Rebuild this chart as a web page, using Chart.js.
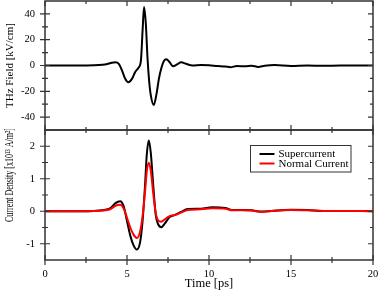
<!DOCTYPE html>
<html>
<head>
<meta charset="utf-8">
<script src="https://cdn.jsdelivr.net/npm/chart.js@4/dist/chart.umd.min.js"></script>
<style>
  body { margin: 0; background: #fff; }
  #wrap { position: relative; width: 378px; height: 292px; }
  #wrap canvas { position: absolute; left: 0; }
</style>
</head>
<body>
<div id="wrap">
  <canvas id="topChart" width="378" height="132" style="top:0"></canvas>
  <canvas id="bottomChart" width="378" height="163" style="top:129px"></canvas>
</div>
<script>
// ---- data ----
const timeTHz = [0, 1, 2, 3, 3.5, 3.8, 4.0, 4.3, 4.5, 4.7,
  4.9, 5.09, 5.3, 5.5, 5.7, 5.85, 5.95, 6.04, 6.15, 6.25,
  6.35, 6.45, 6.63, 6.8, 6.95, 7.1, 7.25, 7.4, 7.6, 7.8,
  8.05, 8.3, 8.6, 9.0, 9.5, 10.0, 10.5, 11.0, 11.3, 11.7,
  12.2, 12.6, 13.0, 13.4, 14.0, 15.0, 16.0, 17.0, 18.0, 20.0];
const thzField = [0, 0, 0, 0.2, 0.6, 1.2, 1.9, 2.6, 1.2, -4,
  -10.5, -13, -10.4, -5, -1.7, 4, 27, 45.4, 32, 6,
  -12, -23, -30.6, -22, -10, -1.7, 3.4, 4.8, 2.5, -0.5,
  0.8, 2.5, 1.3, 0, 0.3, 0.2, -0.4, -0.8, -1.3, -0.4,
  -0.6, -0.2, -1.1, -0.2, 0.3, -0.3, 0, -0.2, 0, 0];

const timeJ = [0, 1, 2, 3, 3.5, 4.0, 4.3, 4.58, 4.8, 5.0,
  5.2, 5.4, 5.6, 5.8, 5.95, 6.1, 6.2, 6.33, 6.45, 6.6,
  6.75, 6.9, 7.1, 7.3, 7.6, 7.9, 8.3, 8.7, 9.5, 10.2,
  11.0, 11.4, 12.0, 12.6, 13.2, 13.8, 15.0, 16.0, 17.0, 18.0, 20.0];
const superJ = [0, 0, 0, 0.01, 0.03, 0.1, 0.25, 0.31, 0.15, -0.3,
  -0.75, -1.05, -1.18, -0.95, -0.3, 0.8, 1.7, 2.18, 1.8, 0.8,
  -0.1, -0.4, -0.49, -0.38, -0.18, -0.12, -0.02, 0.07, 0.08, 0.12,
  0.1, 0.04, 0.04, 0.03, -0.01, 0.01, 0.05, 0.04, 0.01, 0.01, 0];
const normalJ = [0, 0, 0, 0.01, 0.02, 0.07, 0.17, 0.2, 0.08, -0.2,
  -0.5, -0.72, -0.82, -0.62, -0.15, 0.6, 1.2, 1.49, 1.25, 0.55,
  -0.05, -0.28, -0.32, -0.25, -0.15, -0.12, -0.04, 0.04, 0.06, 0.09,
  0.08, 0.03, 0.03, 0.02, -0.02, 0.01, 0.04, 0.03, 0.01, 0.01, 0];

const xTicks = [0, 5, 10, 15, 20];
const xMinorTicks = [2.5, 7.5, 12.5, 17.5];
const yTopTicks = [-40, -20, 0, 20, 40];
const yTopMinorTicks = [-30, -10, 10, 30];
const yBottomTicks = [-1, 0, 1, 2];
const yBottomMinorTicks = [-0.5, 0.5, 1.5];

const seriesNames = ['Supercurrent', 'Normal Current'];
const bottomYTitle = 'Current Density [x10¹³ A/m²]';

// ---- helpers ----
const SERIF = '"Liberation Serif", "Times New Roman", serif';
const AXIS_COLOR = '#333';

function toPoints(xs, ys) {
    return xs.map((x, i) => ({ x: x, y: ys[i] }));
}

function setTicks(values) {
    return function(scale) {
        scale.ticks = values.map(v => ({ value: v }));
    };
}

// fixed axis size, and no extra label padding around the plot
function fixWidth(w) {
    return function(scale) {
        scale.width = w;
        scale.paddingTop = 0;
        scale.paddingBottom = 0;
    };
}

function fixHeight(h) {
    return function(scale) {
        scale.height = h;
        scale.paddingLeft = 0;
        scale.paddingRight = 0;
    };
}

// frame + ticks: left/bottom ticks cross the axis, top/right point inward
const framePlugin = {
    id: 'frame',
    afterDraw(chart, args, opts) {
        const ctx = chart.ctx;
        const a = chart.chartArea;
        const xs = chart.scales.x;
        const ys = chart.scales.y;
        ctx.save();
        ctx.strokeStyle = AXIS_COLOR;
        ctx.lineWidth = 1.5;
        ctx.strokeRect(a.left, a.top, a.right - a.left, a.bottom - a.top);

        ctx.lineWidth = 1.2;
        ctx.beginPath();
        const drawX = (vals, len) => {
            vals.forEach(v => {
                const px = xs.getPixelForValue(v);
                ctx.moveTo(px, a.top);
                ctx.lineTo(px, a.top + len);
                ctx.moveTo(px, a.bottom + (opts.crossBottom ? len : 0));
                ctx.lineTo(px, a.bottom - len);
            });
        };
        const drawY = (vals, len) => {
            vals.forEach(v => {
                const py = ys.getPixelForValue(v);
                ctx.moveTo(a.left - len, py);
                ctx.lineTo(a.left + len, py);
                ctx.moveTo(a.right, py);
                ctx.lineTo(a.right - len, py);
            });
        };
        drawX(opts.xMajor, 5);
        drawX(opts.xMinor, 3);
        drawY(opts.yMajor, 5);
        drawY(opts.yMinor, 3);
        ctx.stroke();
        ctx.restore();
    }
};

// the long y title of the lower panel is squeezed to fit, like in the original
const squeezedTitlePlugin = {
    id: 'squeezedTitle',
    afterDraw(chart, args, opts) {
        const ctx = chart.ctx;
        ctx.save();
        ctx.font = opts.size + 'px ' + SERIF;
        const w = ctx.measureText(opts.text).width;
        ctx.translate(opts.x, opts.y);
        ctx.rotate(-Math.PI / 2);
        ctx.scale(opts.length / w, 1);
        ctx.fillStyle = '#000';
        ctx.textAlign = 'center';
        ctx.textBaseline = 'middle';
        ctx.fillText(opts.text, 0, 0);
        ctx.restore();
    }
};

const legendPlugin = {
    id: 'boxLegend',
    afterDraw(chart) {
        const ctx = chart.ctx;
        const bx = 250.5, by = 16.5, bw = 100.5, bh = 26.5;
        ctx.save();
        ctx.fillStyle = '#fff';
        ctx.fillRect(bx, by, bw, bh);
        ctx.strokeStyle = AXIS_COLOR;
        ctx.lineWidth = 1;
        ctx.strokeRect(bx, by, bw, bh);
        ctx.font = '11px ' + SERIF;
        ctx.textBaseline = 'middle';
        ctx.textAlign = 'left';
        chart.data.datasets.forEach((ds, i) => {
            const y = by + 8.5 + i * 9.5;
            ctx.strokeStyle = ds.borderColor;
            ctx.lineWidth = 2;
            ctx.beginPath();
            ctx.moveTo(bx + 9, y);
            ctx.lineTo(bx + 24, y);
            ctx.stroke();
            ctx.fillStyle = '#000';
            ctx.fillText(ds.label, bx + 28, y + 0.5);
        });
        ctx.restore();
    }
};

const lineDefaults = {
    pointRadius: 0,
    borderWidth: 2,
    fill: false,
    cubicInterpolationMode: 'monotone'
};

// ---- top panel: THz field ----
new Chart(document.getElementById('topChart'), {
    type: 'line',
    data: {
        datasets: [Object.assign({
            label: 'THz Field',
            data: toPoints(timeTHz, thzField),
            borderColor: '#000'
        }, lineDefaults)]
    },
    options: {
        responsive: false,
        animation: false,
        layout: { padding: { top: 1, right: 5, bottom: 2, left: 0 } },
        plugins: {
            legend: { display: false },
            tooltip: { enabled: false },
            frame: { xMajor: xTicks, xMinor: xMinorTicks, yMajor: yTopTicks, yMinor: yTopMinorTicks, crossBottom: false }
        },
        scales: {
            x: { type: 'linear', min: 0, max: 20, display: false },
            y: {
                min: -50, max: 50,
                afterBuildTicks: setTicks(yTopTicks),
                afterFit: fixWidth(45),
                grid: { display: false, drawTicks: false },
                border: { display: false },
                ticks: { padding: 10, color: '#000', font: { family: SERIF, size: 10.5 } },
                title: {
                    display: true, text: 'THz Field [kV/cm]', color: '#000',
                    font: { family: SERIF, size: 11 }, padding: { top: 3.5, bottom: 0 }
                }
            }
        }
    },
    plugins: [framePlugin]
});

// ---- bottom panel: current density ----
new Chart(document.getElementById('bottomChart'), {
    type: 'line',
    data: {
        datasets: [
            Object.assign({
                label: seriesNames[0],
                data: toPoints(timeJ, superJ),
                borderColor: '#000',
                order: 1
            }, lineDefaults),
            Object.assign({
                label: seriesNames[1],
                data: toPoints(timeJ, normalJ),
                borderColor: '#f00',
                order: 0
            }, lineDefaults)
        ]
    },
    options: {
        responsive: false,
        animation: false,
        layout: { padding: { top: 1, right: 5, bottom: 0, left: 0 } },
        plugins: {
            legend: { display: false },
            tooltip: { enabled: false },
            frame: { xMajor: xTicks, xMinor: xMinorTicks, yMajor: yBottomTicks, yMinor: yBottomMinorTicks, crossBottom: true },
            squeezedTitle: { text: bottomYTitle, size: 11.5, x: 10, y: 46, length: 94 }
        },
        scales: {
            x: {
                type: 'linear', min: 0, max: 20,
                afterBuildTicks: setTicks(xTicks),
                afterFit: fixHeight(32),
                grid: { display: false, drawTicks: false },
                border: { display: false },
                ticks: { padding: 8, maxRotation: 0, color: '#000', font: { family: SERIF, size: 10.5 } },
                title: {
                    display: true, text: 'Time [ps]', color: '#000',
                    font: { family: SERIF, size: 12.5 }, padding: { top: 0, bottom: 1 }
                }
            },
            y: {
                min: -1.5, max: 2.5,
                afterBuildTicks: setTicks(yBottomTicks),
                afterFit: fixWidth(45),
                grid: { display: false, drawTicks: false },
                border: { display: false },
                ticks: { padding: 10, color: '#000', font: { family: SERIF, size: 10.5 } }
            }
        }
    },
    plugins: [framePlugin, legendPlugin, squeezedTitlePlugin]
});
</script>
</body>
</html>
